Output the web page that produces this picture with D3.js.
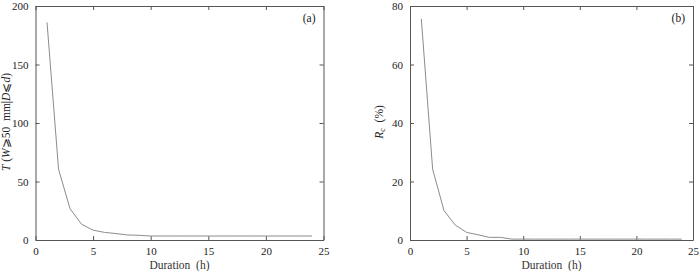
<!DOCTYPE html>
<html>
<head>
<meta charset="utf-8">
<script src="https://cdn.jsdelivr.net/npm/d3@7"></script>
<style>
  body { margin: 0; background: #fff; }
  svg text { font-family: "Liberation Serif", "Times New Roman", "DejaVu Serif", serif; }
  .tick text { font-size: 11px; fill: #222; }
  .domain, .tick line { stroke: #555; }
</style>
</head>
<body>
<svg id="chart" width="700" height="271"></svg>
<script>
const durations = d3.range(1, 25);
// panel (a): T(W>=50 mm | D<=d)
const tValues = [186, 60.5, 26.7, 13.5, 8.4, 6.5, 5.5, 4.3, 4.0, 3.4, 3.4, 3.4, 3.4, 3.4, 3.4, 3.4, 3.4, 3.4, 3.4, 3.4, 3.4, 3.4, 3.4, 3.4];
// panel (b): Rc (%)
const rcValues = [75.6, 24.2, 10.1, 5.1, 2.6, 1.8, 0.9, 0.9, 0.3, 0.3, 0.3, 0.3, 0.3, 0.3, 0.3, 0.3, 0.3, 0.3, 0.3, 0.3, 0.3, 0.3, 0.3, 0.3];
const xTicks = [0, 5, 10, 15, 20, 25];
const tTicks = [0, 50, 100, 150, 200];
const rcTicks = [0, 20, 40, 60, 80];

const svg = d3.select("#chart");

function panel(opts) {
  const { left, right, top, bottom, yMax, yTicks, values, tag } = opts;
  const x = d3.scaleLinear().domain([0, 25]).range([left, right]);
  const y = d3.scaleLinear().domain([0, yMax]).range([bottom, top]);
  const g = svg.append("g");

  g.append("g")
    .attr("transform", `translate(0,${bottom})`)
    .call(d3.axisBottom(x).tickValues(xTicks).tickSizeInner(-4).tickSizeOuter(0).tickPadding(7));
  g.append("g")
    .attr("transform", `translate(0,${top})`)
    .call(d3.axisTop(x).tickValues(xTicks).tickSizeInner(-4).tickSizeOuter(0).tickFormat(""));
  g.append("g")
    .attr("transform", `translate(${left},0)`)
    .call(d3.axisLeft(y).tickValues(yTicks).tickSizeInner(-4).tickSizeOuter(0).tickPadding(7));
  g.append("g")
    .attr("transform", `translate(${right},0)`)
    .call(d3.axisRight(y).tickValues(yTicks).tickSizeInner(-4).tickSizeOuter(0).tickFormat(""));

  const line = d3.line().x((d, i) => x(durations[i])).y((d) => y(d));
  g.append("path")
    .datum(values)
    .attr("fill", "none")
    .attr("stroke", "#8c8c8c")
    .attr("stroke-width", 1)
    .attr("d", line);

  g.append("text")
    .attr("x", (left + right) / 2)
    .attr("y", 269)
    .attr("text-anchor", "middle")
    .attr("font-size", 11.5)
    .attr("fill", "#333")
    .text("Duration\u00a0 (h)");

  g.append("text")
    .attr("x", right - 8)
    .attr("y", 22)
    .attr("text-anchor", "end")
    .attr("font-size", 11.5)
    .attr("fill", "#222")
    .text(tag);
  return g;
}

const ga = panel({ left: 35.5, right: 323.5, top: 6, bottom: 240, yMax: 200, yTicks: tTicks, values: tValues, tag: "(a)" });
const gb = panel({ left: 410, right: 693, top: 6, bottom: 240, yMax: 80, yTicks: rcTicks, values: rcValues, tag: "(b)" });

// y labels
const la = ga.append("text")
  .attr("transform", "translate(10,122) rotate(-90)")
  .attr("text-anchor", "middle")
  .attr("font-size", 11.5)
  .attr("fill", "#222");
la.append("tspan").attr("font-style", "italic").text("T");
la.append("tspan").text("\u00a0(");
la.append("tspan").attr("font-style", "italic").text("W");
la.append("tspan").text("\u2A7E50\u00a0 mm|");
la.append("tspan").attr("font-style", "italic").text("D");
la.append("tspan").text("\u2A7D");
la.append("tspan").attr("font-style", "italic").text("d");
la.append("tspan").text(")");

const lb = gb.append("text")
  .attr("transform", "translate(383,122) rotate(-90)")
  .attr("text-anchor", "middle")
  .attr("font-size", 11.5)
  .attr("fill", "#222");
lb.append("tspan").attr("font-style", "italic").text("R");
lb.append("tspan").attr("font-size", 8).attr("dy", 2).text("c");
lb.append("tspan").attr("dy", -2).text("\u00a0 (%)");
</script>
</body>
</html>
